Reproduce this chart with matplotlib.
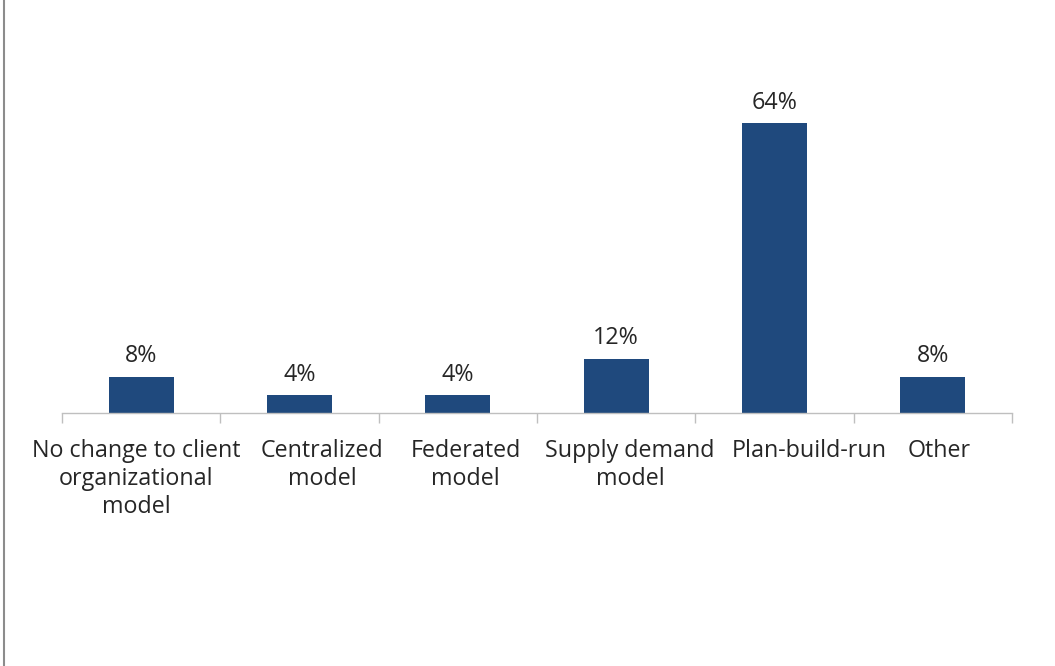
import matplotlib
matplotlib.use("Agg")
import matplotlib.pyplot as plt
from matplotlib.lines import Line2D
from matplotlib.transforms import ScaledTranslation

# data
categories = ["No change to client\norganizational\nmodel", "Centralized\nmodel",
              "Federated\nmodel", "Supply demand\nmodel", "Plan-build-run", "Other"]
values = [8, 4, 4, 12, 64, 8]

# horizontal nudge (px) of each category label, as in the original layout
label_dx = [-5, 23, 8, 14, 35, 6]

plt.rcParams['font.family'] = ['Open Sans', 'DejaVu Sans']

fig = plt.figure(figsize=(10.55, 6.66), dpi=100)
W, H = 1055, 666
# axes placed in pixel terms: left 62, right 1012, baseline y=413, top y=10
ax = fig.add_axes([62 / W, (H - 413) / H, (1012 - 62) / W, (413 - 10) / H])

x = list(range(len(values)))
bars = ax.bar(x, values, width=0.41, color='#1F497D')
ax.set_xlim(-0.5, len(values) - 0.5)
ax.set_ylim(0, 403 / 4.53)

for xi, v in zip(x, values):
    ax.annotate(f"{v}%", (xi, v), xytext=(0, 6), textcoords='offset points',
                ha='center', va='bottom', fontsize=16.75, color='#262626')

# category ticks at boundaries, labels centred
ax.set_xticks([i - 0.5 for i in range(len(values) + 1)])
ax.set_xticklabels([])
ax.set_xticks(x, minor=True)
ax.set_xticklabels(categories, minor=True, fontsize=16.75, color='#262626', linespacing=1.2)
ax.tick_params(axis='x', which='major', length=7.5, color='#BFBFBF', width=1)
ax.tick_params(axis='x', which='minor', length=0, pad=19)

for lab, dx in zip(ax.get_xticklabels(minor=True), label_dx):
    lab.set_transform(lab.get_transform() + ScaledTranslation(dx / 100, 0, fig.dpi_scale_trans))

ax.set_yticks([])
for s in ['top', 'right', 'left']:
    ax.spines[s].set_visible(False)
ax.spines['bottom'].set_color('#BFBFBF')
ax.spines['bottom'].set_linewidth(1)

# grey border on the left edge
fig.add_artist(Line2D([3.5 / W, 3.5 / W], [0, 1], transform=fig.transFigure,
                      color='#8C8C8C', linewidth=1.5))

fig.savefig("out.png", dpi=100)
